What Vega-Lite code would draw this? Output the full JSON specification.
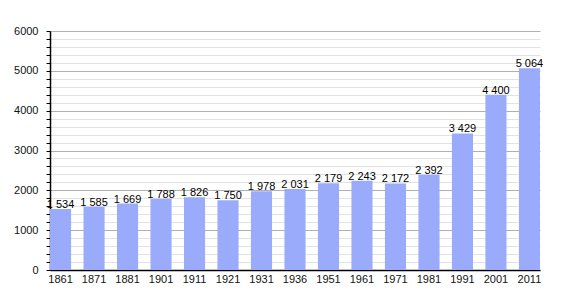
{
  "$schema": "https://vega.github.io/schema/vega-lite/v6.json",
  "width": 491,
  "height": 239,
  "autosize": "none",
  "padding": {"left": 50, "top": 31, "right": 29, "bottom": 30},
  "background": "white",
  "config": {"view": {"stroke": null}, "font": "Liberation Sans"},
  "data": {"values": [
    {"year": "1861", "pop": 1534, "label": "1 534"},
    {"year": "1871", "pop": 1585, "label": "1 585"},
    {"year": "1881", "pop": 1669, "label": "1 669"},
    {"year": "1901", "pop": 1788, "label": "1 788"},
    {"year": "1911", "pop": 1826, "label": "1 826"},
    {"year": "1921", "pop": 1750, "label": "1 750"},
    {"year": "1931", "pop": 1978, "label": "1 978"},
    {"year": "1936", "pop": 2031, "label": "2 031"},
    {"year": "1951", "pop": 2179, "label": "2 179"},
    {"year": "1961", "pop": 2243, "label": "2 243"},
    {"year": "1971", "pop": 2172, "label": "2 172"},
    {"year": "1981", "pop": 2392, "label": "2 392"},
    {"year": "1991", "pop": 3429, "label": "3 429"},
    {"year": "2001", "pop": 4400, "label": "4 400"},
    {"year": "2011", "pop": 5064, "label": "5 064"}
  ]},
  "encoding": {
    "x": {
      "field": "year", "type": "ordinal", "sort": null,
      "scale": {"paddingInner": 0.37, "paddingOuter": 0, "range": [0, 490]},
      "axis": {"title": null, "labelAngle": 0, "ticks": false, "domainColor": "#000", "domainWidth": 1.5, "labelColor": "#111", "labelFontSize": 11, "labelPadding": 3, "grid": false}
    },
    "y": {
      "field": "pop", "type": "quantitative",
      "scale": {"domain": [0, 6000], "nice": false},
      "axis": {
        "title": null,
        "values": [0,200,400,600,800,1000,1200,1400,1600,1800,2000,2200,2400,2600,2800,3000,3200,3400,3600,3800,4000,4200,4400,4600,4800,5000,5200,5400,5600,5800,6000],
        "labelExpr": "datum.value % 1000 === 0 ? format(datum.value, 'd') : ''",
        "grid": true,
        "gridColor": {"condition": {"test": "datum.value % 1000 === 0", "value": "#b0b0b0"}, "value": "#e2e2e2"},
        "gridWidth": 1,
        "tickColor": "#000",
        "tickSize": 4,
        "domainColor": "#000",
        "domainWidth": 1.5,
        "labelColor": "#111",
        "labelFontSize": 11,
        "labelPadding": 8
      }
    }
  },
  "layer": [
    {"mark": {"type": "bar", "color": "#9aabfb"}},
    {"mark": {"type": "text", "baseline": "bottom", "dy": 1, "fontSize": 11, "color": "#000"},
     "encoding": {"text": {"field": "label"}}}
  ]
}
